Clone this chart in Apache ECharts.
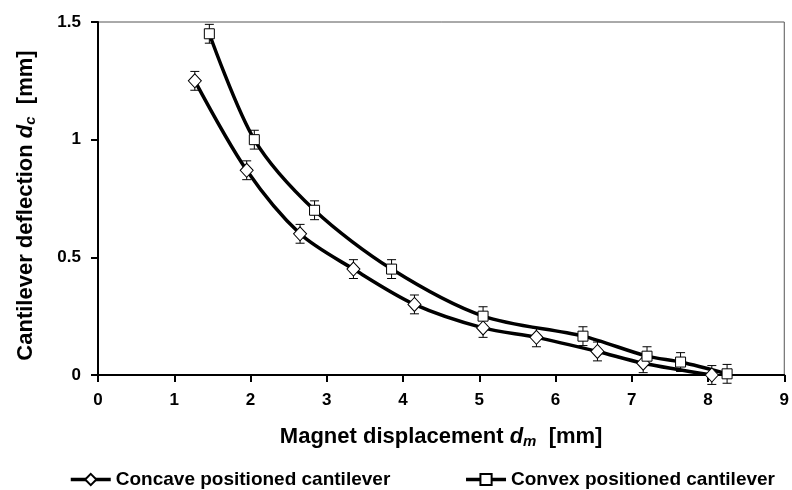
<!DOCTYPE html>
<html><head><meta charset="utf-8">
<script src="https://cdn.jsdelivr.net/npm/echarts@6/dist/echarts.min.js"></script>
<style>html,body{margin:0;padding:0;background:#fff}#c{width:792px;height:490px}</style>
</head><body><div id="c"></div>
<script>
const concaveX = [1.27, 1.95, 2.65, 3.35, 4.15, 5.05, 5.75, 6.55, 7.15, 8.05];
const concaveY = [1.25, 0.87, 0.60, 0.45, 0.30, 0.20, 0.16, 0.10, 0.05, 0.00];
const convexX = [1.46, 2.05, 2.84, 3.85, 5.05, 6.36, 7.20, 7.64, 8.25];
const convexY = [1.45, 1.00, 0.70, 0.45, 0.25, 0.165, 0.08, 0.055, 0.005];
const errorBar = 0.04;
const xTicks = [0, 1, 2, 3, 4, 5, 6, 7, 8, 9];
const yTicks = [0, 0.5, 1, 1.5];

const FONT = '"Liberation Sans", Arial, Helvetica, sans-serif';
const pts = (xs, ys) => xs.map((x, i) => [x, ys[i]]);
const errs = (xs, ys) => xs.map((x, i) => [x, ys[i] - errorBar, ys[i] + errorBar]);

function errRender(params, api) {
  const x = api.value(0);
  const lo = api.coord([x, api.value(1)]);
  const hi = api.coord([x, api.value(2)]);
  const w = 4.5;
  const st = { stroke: '#000', lineWidth: 1 };
  return { type: 'group', children: [
    { type: 'line', shape: { x1: lo[0], y1: lo[1], x2: hi[0], y2: hi[1] }, style: st },
    { type: 'line', shape: { x1: lo[0] - w, y1: lo[1], x2: lo[0] + w, y2: lo[1] }, style: st },
    { type: 'line', shape: { x1: hi[0] - w, y1: hi[1], x2: hi[0] + w, y2: hi[1] }, style: st }
  ]};
}

const titleRich = {
  t: { fontSize: 22, fontWeight: 'bold', color: '#000', fontFamily: FONT },
  i: { fontSize: 22, fontWeight: 'bold', fontStyle: 'italic', color: '#000', fontFamily: FONT },
  s: { fontSize: 15, fontWeight: 'bold', fontStyle: 'italic', color: '#000', fontFamily: FONT, padding: [9, 0, 0, 0] }
};

const chart = echarts.init(document.getElementById('c'), null, { renderer: 'canvas' });
chart.setOption({
  animation: false,
  backgroundColor: '#fff',
  textStyle: { fontFamily: FONT },
  grid: { left: 98, right: 6, top: 22, bottom: 115, show: true, borderColor: '#555', borderWidth: 1 },
  xAxis: {
    type: 'value', min: 0, max: 9, interval: 1,
    axisLine: { show: true, onZero: false, lineStyle: { color: '#000', width: 2 } },
    axisTick: { show: true, inside: false, length: 7, lineStyle: { color: '#000', width: 2 } },
    splitLine: { show: false },
    axisLabel: { color: '#000', fontSize: 17, fontWeight: 'bold', fontFamily: FONT, margin: 17,
      formatter: v => xTicks.includes(v) ? String(v) : '' },
    name: '{t|Magnet displacement }{i|d}{s|m}{t|  [mm]}',
    nameLocation: 'middle', nameGap: 50,
    nameTextStyle: { rich: titleRich }
  },
  yAxis: {
    type: 'value', min: 0, max: 1.5, interval: 0.5,
    axisLine: { show: true, lineStyle: { color: '#000', width: 2 } },
    axisTick: { show: true, inside: false, length: 7, lineStyle: { color: '#000', width: 2 } },
    splitLine: { show: false },
    axisLabel: { color: '#000', fontSize: 17, fontWeight: 'bold', fontFamily: FONT, margin: 17,
      formatter: v => yTicks.some(t => Math.abs(t - v) < 1e-9) ? String(v) : '' },
    name: '{t|Cantilever deflection }{i|d}{s|c}{t|  [mm]}',
    nameLocation: 'middle', nameGap: 60, nameRotate: 90,
    nameTextStyle: { rich: titleRich, padding: [0, 0, 0, -14] }
  },
  legend: {
    data: ['Concave positioned cantilever', 'Convex positioned cantilever'],
    top: 465, left: 64, itemGap: 74, itemWidth: 40, itemHeight: 14,
    lineStyle: { width: 3.5, color: '#000' },
    textStyle: { color: '#000', fontSize: 19, fontWeight: 'bold', fontFamily: FONT }
  },
  series: [
    { type: 'custom', name: 'errConcave', renderItem: errRender, data: errs(concaveX, concaveY), z: 1, silent: true },
    { type: 'custom', name: 'errConvex', renderItem: errRender, data: errs(convexX, convexY), z: 1, silent: true },
    { type: 'line', name: 'Concave positioned cantilever', data: pts(concaveX, concaveY), smooth: 0.3,
      symbol: 'diamond', symbolSize: [13, 14], z: 3,
      lineStyle: { color: '#000', width: 3.5 },
      itemStyle: { color: '#fff', borderColor: '#000', borderWidth: 1 } },
    { type: 'line', name: 'Convex positioned cantilever', data: pts(convexX, convexY), smooth: 0.3,
      symbol: 'rect', symbolSize: 10, z: 3,
      lineStyle: { color: '#000', width: 3.5 },
      itemStyle: { color: '#fff', borderColor: '#000', borderWidth: 1 } }
  ]
});
</script></body></html>
